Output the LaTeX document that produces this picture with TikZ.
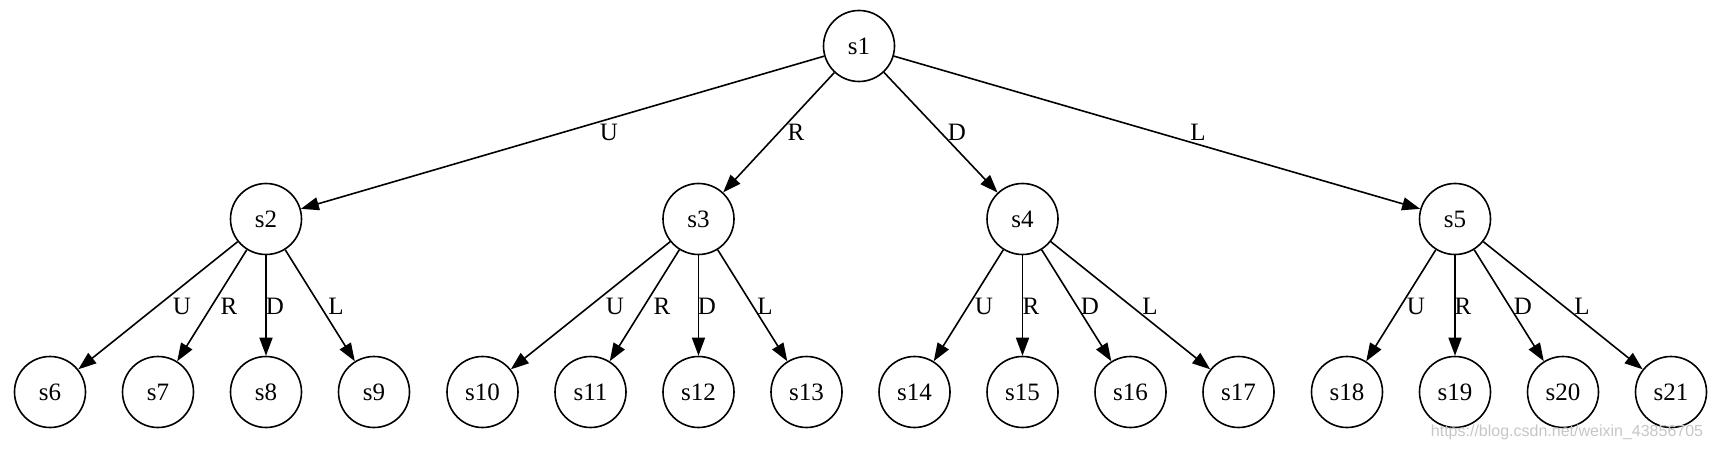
\documentclass[tikz,border=0pt]{standalone}
\usepackage{fontspec}
\setmainfont{Liberation Serif}
\newfontfamily\wmfont{Liberation Sans}
\usetikzlibrary{arrows.meta}
\begin{document}
\begin{tikzpicture}[x=1pt,y=-1pt,
  st/.style={circle,draw,line width=1.6pt,minimum size=71pt,inner sep=0pt,font=\fontsize{25}{30}\selectfont},
  lab/.style={font=\fontsize{25}{30}\selectfont,inner sep=0pt},
  edge/.style={line width=1.6pt,-{Triangle[length=18pt,width=13pt]}}]
\useasboundingbox (0,0) rectangle (1712,449);
\fill[white] (0,0) rectangle (1712,449);
% level 1
\node[st] (s1) at (859,46) {s1};
% level 2
\node[st] (s2) at (266,219) {s2};
\node[st] (s3) at (698.5,219) {s3};
\node[st] (s4) at (1022.5,219) {s4};
\node[st] (s5) at (1455,219) {s5};
% leaves
\foreach \i/\x in {6/50,7/158,8/266,9/374,10/482.5,11/590.5,12/698.5,13/806.5,14/914.5,15/1022.5,16/1130.5,17/1238.5,18/1347,19/1455,20/1563,21/1671}
  \node[st] (s\i) at (\x,392) {s\i};
% top edges
\draw[edge] (s1) -- (s2);
\draw[edge] (s1) -- (s3);
\draw[edge] (s1) -- (s4);
\draw[edge] (s1) -- (s5);
\node[lab] (l1U) at (609,132) {U};
\node[lab] (l1R) at (796,132) {R};
\node[lab] (l1D) at (957,132) {D};
\node[lab] (l1L) at (1198,132) {L};
% second-level edges
\foreach \p/\a/\b/\c/\d in {2/6/7/8/9,3/10/11/12/13,4/14/15/16/17,5/18/19/20/21}{
  \draw[edge] (s\p) -- (s\a);
  \draw[edge] (s\p) -- (s\b);
  \draw[edge] (s\p) -- (s\c);
  \draw[edge] (s\p) -- (s\d);
}
\foreach \p/\u/\r/\dd/\l in {2/182/229/275/336,3/615/662/707/765,4/984/1031/1090/1150,5/1416/1463/1523/1582}{
  \node[lab] (u\p) at (\u,306) {U};
  \node[lab] (r\p) at (\r,306) {R};
  \node[lab] (d\p) at (\dd,306) {D};
  \node[lab] (ll\p) at (\l,306) {L};
}
% watermark
\node[font=\wmfont\fontsize{16}{18}\selectfont,text=black!22,inner sep=0pt] (wm) at (1567,432) {https://blog.csdn.net/weixin\_43856705};
\end{tikzpicture}
\end{document}
